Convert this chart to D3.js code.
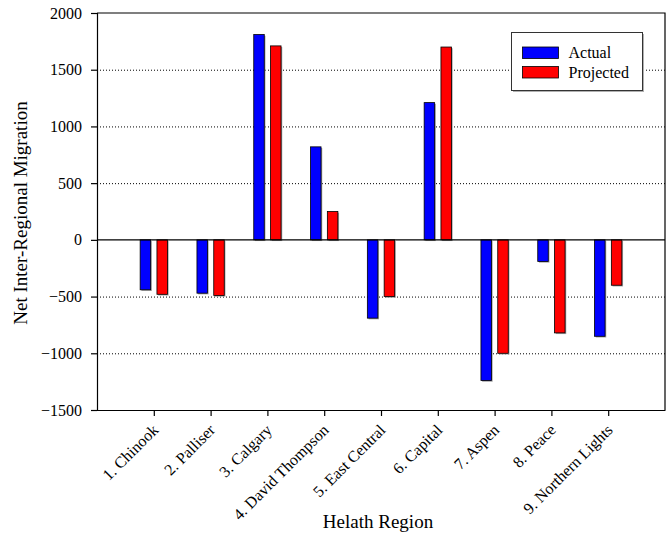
<!DOCTYPE html>
<html>
<head>
<meta charset="utf-8">
<script src="https://cdn.jsdelivr.net/npm/d3@7"></script>
<style>
  html, body { margin: 0; padding: 0; background: #fff; }
  svg { display: block; }
  svg text { font-family: "Liberation Serif", "Times New Roman", serif; fill: #000; }
</style>
</head>
<body>
<svg id="chart" width="667" height="535"></svg>
<script>
// Health regions and net inter-regional migration
const regions = ["1. Chinook", "2. Palliser", "3. Calgary", "4. David Thompson", "5. East Central",
                 "6. Capital", "7. Aspen", "8. Peace", "9. Northern Lights"];
const actual    = [-440, -470, 1810, 820, -690, 1210, -1240, -190, -850];
const projected = [-480, -490, 1710, 250, -500, 1700, -1000, -820, -400];
const seriesNames = ["Actual", "Projected"];
const seriesColors = ["#0000ff", "#ff0000"];
const yTicks = [-1500, -1000, -500, 0, 500, 1000, 1500, 2000];
const gridValues = [-1000, -500, 500, 1000, 1500];

const svg = d3.select("#chart");
const plotLeft = 97, plotRight = 665, plotTop = 13, plotBottom = 410;

// categories sit at positions 1..9 on a 0..10 linear axis
const x = d3.scaleLinear().domain([0, regions.length + 1]).range([plotLeft, plotRight]);
const y = d3.scaleLinear().domain([-1500, 2000]).range([plotBottom, plotTop]);

const barW = 10.5, offset = 8.4;

// dotted gridlines
svg.append("g").selectAll("line").data(gridValues).join("line")
  .attr("x1", plotLeft).attr("x2", plotRight)
  .attr("y1", d => y(d) + 0.5).attr("y2", d => y(d) + 0.5)
  .attr("stroke", "#000").attr("stroke-width", 1).attr("stroke-dasharray", "1,2");

// bars with a soft grey drop edge
const series = [actual, projected];
series.forEach((vals, si) => {
  const g = svg.append("g");
  const dx = si === 0 ? -offset : offset;
  const data = vals.map((v, i) => ({ v, i }));
  g.selectAll("rect.shadow").data(data).join("rect")
    .attr("class", "shadow")
    .attr("x", d => x(d.i + 1) + dx - barW / 2 + 1.2)
    .attr("y", d => Math.min(y(d.v), y(0)) + 1.2)
    .attr("width", barW)
    .attr("height", d => Math.abs(y(d.v) - y(0)))
    .attr("fill", "#a0a0a0");
  g.selectAll("rect.bar").data(data).join("rect")
    .attr("class", "bar")
    .attr("x", d => x(d.i + 1) + dx - barW / 2)
    .attr("y", d => Math.min(y(d.v), y(0)))
    .attr("width", barW)
    .attr("height", d => Math.abs(y(d.v) - y(0)))
    .attr("fill", seriesColors[si])
    .attr("stroke", "#000").attr("stroke-width", 0.8);
});

// zero line
svg.append("line")
  .attr("x1", plotLeft).attr("x2", plotRight)
  .attr("y1", y(0)).attr("y2", y(0))
  .attr("stroke", "#000").attr("stroke-width", 1.2);

// frame: top and right edges
svg.append("path")
  .attr("d", `M${plotLeft},${plotTop}H${plotRight}V${plotBottom}`)
  .attr("fill", "none").attr("stroke", "#000").attr("stroke-width", 1.2);

// y axis
const yAxis = d3.axisLeft(y).tickValues(yTicks).tickSize(6).tickPadding(9).tickFormat(d3.format("d"));
const gy = svg.append("g").attr("transform", `translate(${plotLeft},0)`).call(yAxis);
gy.select(".domain").attr("stroke-width", 1.2);
gy.selectAll(".tick line").attr("stroke-width", 1.2);
gy.selectAll("text").attr("font-size", 16);

// x axis
const xAxis = d3.axisBottom(x).tickValues(d3.range(1, regions.length + 1))
  .tickSize(6).tickSizeOuter(0).tickFormat(d => regions[d - 1]);
const gx = svg.append("g").attr("transform", `translate(0,${plotBottom})`).call(xAxis);
gx.select(".domain").attr("stroke-width", 1.2);
gx.selectAll(".tick line").attr("stroke-width", 1.2);
gx.selectAll("text")
  .attr("font-size", 16)
  .attr("text-anchor", "end")
  .attr("dy", null).attr("y", 0)
  .attr("transform", "translate(5,21) rotate(-45)");

// axis titles
svg.append("text")
  .attr("x", 378).attr("y", 528)
  .attr("text-anchor", "middle").attr("font-size", 19)
  .text("Helath Region");
svg.append("text")
  .attr("transform", `translate(27,213) rotate(-90)`)
  .attr("text-anchor", "middle").attr("font-size", 19)
  .text("Net Inter-Regional Migration");

// legend
const lg = svg.append("g").attr("transform", "translate(511.5,32.5)");
lg.append("rect").attr("x", 1.5).attr("y", 1.5).attr("width", 131).attr("height", 58).attr("fill", "#b0b0b0");
lg.append("rect").attr("width", 131).attr("height", 58).attr("fill", "#fff").attr("stroke", "#333").attr("stroke-width", 1);
seriesNames.forEach((name, i) => {
  lg.append("rect").attr("x", 11).attr("y", 14.5 + i * 19.5).attr("width", 36).attr("height", 11.5)
    .attr("fill", seriesColors[i]).attr("stroke", "#000").attr("stroke-width", 0.8);
  lg.append("text").attr("x", 57).attr("y", 25 + i * 20.5).attr("font-size", 16).text(name);
});
</script>
</body>
</html>
